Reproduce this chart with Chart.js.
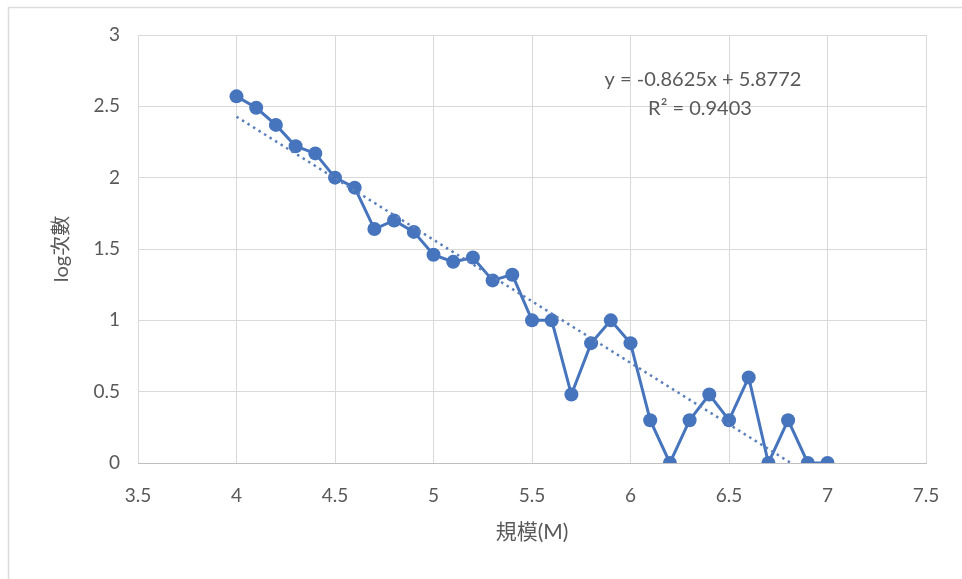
<!DOCTYPE html>
<html>
<head>
<meta charset="utf-8">
<script src="https://cdn.jsdelivr.net/npm/chart.js@4"></script>
<style>
  html, body { margin: 0; padding: 0; background: #fff; overflow: hidden; }
  canvas { display: block; }
</style>
</head>
<body>
<canvas id="myChart" width="962" height="579"></canvas>
<script>
// magnitude (M) and log of event counts
var magnitudes = [4.0, 4.1, 4.2, 4.3, 4.4, 4.5, 4.6, 4.7, 4.8, 4.9,
                  5.0, 5.1, 5.2, 5.3, 5.4, 5.5, 5.6, 5.7, 5.8, 5.9,
                  6.0, 6.1, 6.2, 6.3, 6.4, 6.5, 6.6, 6.7, 6.8, 6.9, 7.0];
var logCounts = [2.57, 2.49, 2.37, 2.22, 2.17, 2.00, 1.93, 1.64, 1.70, 1.62,
                 1.46, 1.41, 1.44, 1.28, 1.32, 1.00, 1.00, 0.48, 0.84, 1.00,
                 0.84, 0.30, 0.00, 0.30, 0.48, 0.30, 0.60, 0.00, 0.30, 0.00, 0.00];

// linear trendline shown on the chart
var slope = -0.8625;
var intercept = 5.8772;
var rSquared = 0.9403;
var trendX = [4.0, -intercept / slope]; // ends where it hits the x axis

var xTicks = [3.5, 4, 4.5, 5, 5.5, 6, 6.5, 7, 7.5];
var yTicks = [0, 0.5, 1, 1.5, 2, 2.5, 3];

var blue = "#4674bd";
var fontFamily = 'Lato, "Noto Sans CJK TC", sans-serif';

var points = magnitudes.map(function (m, i) { return { x: m, y: logCounts[i] }; });
var trendPoints = trendX.map(function (x) { return { x: x, y: slope * x + intercept }; });

var frame = {
  id: "frame",
  beforeDraw: function (chart) {
    var c = chart.ctx;
    c.save();
    c.strokeStyle = "#dcdcdc";
    c.lineWidth = 1.5;
    c.beginPath();
    c.moveTo(8.5, 579);
    c.lineTo(8.5, 7.5);
    c.lineTo(962, 7.5);
    c.stroke();
    c.restore();
  },
  afterDraw: function (chart) {
    var c = chart.ctx;
    c.save();
    c.fillStyle = "#595959";
    c.font = "20px " + fontFamily;
    c.textAlign = "center";
    c.textBaseline = "middle";
    c.fillText("y = " + slope + "x + " + intercept, 703, 80);
    c.fillText("R² = " + rSquared, 700, 109);
    c.restore();
  }
};

var ctx = document.getElementById("myChart").getContext("2d");
var myChart = new Chart(ctx, {
  type: "scatter",
  data: {
    datasets: [{
      label: "trend",
      data: trendPoints,
      showLine: true,
      borderColor: "#5b7fbb",
      borderWidth: 2.5,
      borderDash: [2.5, 4],
      pointRadius: 0,
      order: 0
    }, {
      label: "log次數",
      data: points,
      showLine: true,
      borderColor: blue,
      backgroundColor: blue,
      borderWidth: 3,
      pointRadius: 7,
      pointBorderWidth: 0,
      order: 1
    }]
  },
  options: {
    responsive: false,
    animation: false,
    devicePixelRatio: 1,
    layout: { padding: { left: 46, right: 36, top: 35, bottom: 30 } },
    plugins: { legend: { display: false }, tooltip: { enabled: false } },
    scales: {
      x: {
        type: "linear",
        min: 3.5,
        max: 7.5,
        afterBuildTicks: function (s) { s.ticks = xTicks.map(function (v) { return { value: v }; }); },
        afterFit: function (s) { s.height = 86; },
        grid: { color: "#d9d9d9", drawTicks: false },
        border: { color: "#bfbfbf", width: 1 },
        ticks: {
          color: "#595959", font: { family: fontFamily, size: 19 }, padding: 21, maxRotation: 0,
          callback: function (v) { return String(v); }
        },
        title: { display: true, text: "規模(M)", color: "#595959", font: { family: fontFamily, size: 21 } }
      },
      y: {
        min: 0,
        max: 3,
        afterBuildTicks: function (s) { s.ticks = yTicks.map(function (v) { return { value: v }; }); },
        afterFit: function (s) { s.width = 92; },
        grid: { color: "#d9d9d9", drawTicks: false },
        border: { display: false },
        ticks: {
          color: "#595959", font: { family: fontFamily, size: 19 }, padding: 18,
          callback: function (v) { return String(v); }
        },
        title: { display: true, text: "log次數", color: "#595959", font: { family: fontFamily, size: 20 } }
      }
    }
  },
  plugins: [frame]
});
</script>
</body>
</html>
